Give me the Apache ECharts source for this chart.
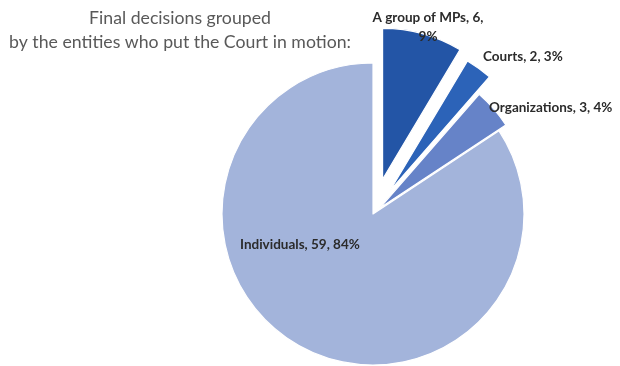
<!DOCTYPE html>
<html>
<head>
<meta charset="utf-8">
<style>
  html, body { margin: 0; padding: 0; background: #ffffff; }
  #chart { width: 620px; height: 366px; }
</style>
<script src="https://cdn.jsdelivr.net/npm/echarts@6/dist/echarts.min.js"></script>
</head>
<body>
<div id="chart"></div>
<script>
// Final decisions by who brought the case to the Court
const categories = ['A group of MPs', 'Courts', 'Organizations', 'Individuals'];
const counts = [6, 2, 3, 59];
const percents = [9, 3, 4, 84];
const colors = ['#2355a6', '#2c63b8', '#6683c8', '#a3b4db'];
// How far each slice is pulled out of the pie (px)
const explode = [36, 29, 9, 0];

const titleLines = ['Final decisions grouped', 'by the entities who put the Court in motion:'];

const FONT = 'Lato, "Open Sans", sans-serif';
const CENTER = [373, 214];
const RADIUS = 151;

// Data-label anchor per slice
const labelPos = [
  { x: 428, y: 27, align: 'center' },
  { x: 483, y: 57, align: 'left' },
  { x: 489, y: 108, align: 'left' },
  { x: 240, y: 245, align: 'left' }
];

function labelText(i) {
  if (i === 0) return categories[i] + ', ' + counts[i] + ',\n' + percents[i] + '%';
  return categories[i] + ', ' + counts[i] + ', ' + percents[i] + '%';
}

// One pie per slice, each pulled out by its own distance; the other
// slices in that pie stay transparent so all pies share the same angles.
const series = categories.map(function (_, k) {
  return {
    type: 'pie',
    center: CENTER,
    radius: RADIUS,
    startAngle: 90,
    clockwise: true,
    silent: true,
    animation: false,
    selectedMode: 'multiple',
    selectedOffset: explode[k],
    label: { show: false },
    labelLine: { show: false },
    data: categories.map(function (name, i) {
      const mine = i === k;
      const style = mine
        ? { color: colors[i], borderColor: '#ffffff', borderWidth: 1.2 }
        : { color: 'rgba(0,0,0,0)', borderWidth: 0 };
      return {
        name: name,
        value: counts[i],
        selected: mine && explode[k] > 0,
        itemStyle: style,
        select: { itemStyle: style }
      };
    })
  };
});

const graphics = [{
  type: 'text',
  x: 180,
  y: 6,
  z: 10,
  style: {
    text: titleLines.join('\n'),
    align: 'center',
    verticalAlign: 'top',
    fill: '#595959',
    font: '17.7px ' + FONT,
    lineHeight: 24
  }
}];

categories.forEach(function (name, i) {
  const lp = labelPos[i];
  graphics.push({
    type: 'text',
    x: lp.x,
    y: lp.y,
    z: 10,
    style: {
      text: labelText(i),
      align: lp.align,
      verticalAlign: 'middle',
      fill: '#2b2b2b',
      font: 'bold 13.5px ' + FONT,
      lineHeight: 19
    }
  });
});

const chart = echarts.init(document.getElementById('chart'), null, { renderer: 'canvas' });
chart.setOption({
  backgroundColor: '#ffffff',
  animation: false,
  graphic: graphics,
  series: series
});
</script>
</body>
</html>
